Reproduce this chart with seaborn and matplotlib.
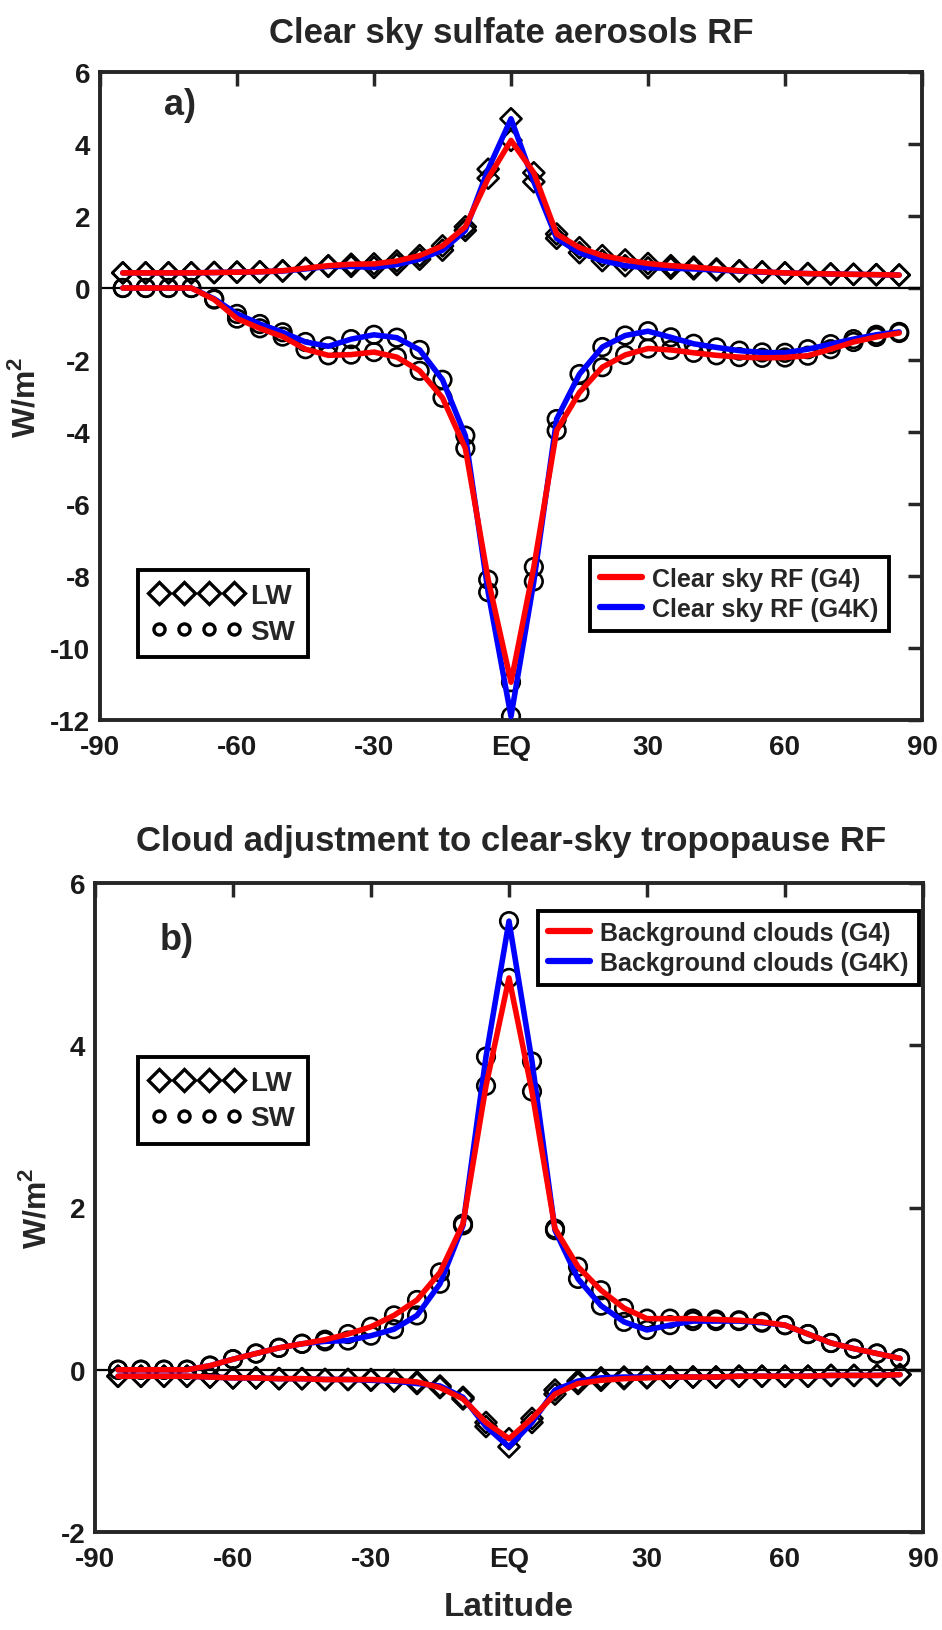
import pandas as pd
import matplotlib.pyplot as plt
import seaborn as sns
from matplotlib.lines import Line2D

# ---------------------------------------------------------------------------
# Data (W/m2), latitudes -85..85 every 5 degrees
# ---------------------------------------------------------------------------
lat = list(range(-85, 90, 5))

# panel a: clear sky sulfate aerosol RF
a_lw_g4 = [0.42, 0.42, 0.42, 0.42, 0.43, 0.44, 0.45, 0.48, 0.55, 0.62, 0.66, 0.67,
           0.75, 0.90, 1.17, 1.70, 3.05, 4.10, 3.20, 1.50, 1.12, 0.90, 0.78, 0.68,
           0.62, 0.58, 0.53, 0.48, 0.45, 0.42, 0.40, 0.39, 0.38, 0.37, 0.36]
a_lw_g4k = [0.42, 0.42, 0.42, 0.42, 0.43, 0.44, 0.45, 0.47, 0.53, 0.60, 0.60, 0.57,
            0.65, 0.80, 1.05, 1.60, 3.30, 4.70, 2.95, 1.38, 0.98, 0.76, 0.62, 0.56,
            0.55, 0.53, 0.50, 0.47, 0.44, 0.42, 0.40, 0.39, 0.38, 0.37, 0.36]
a_sw_g4 = [0.0, 0.0, 0.0, 0.0, -0.32, -0.85, -1.12, -1.35, -1.70, -1.87, -1.85, -1.78,
           -1.92, -2.30, -3.05, -4.45, -8.10, -10.95, -7.75, -3.96, -2.90, -2.20, -1.86,
           -1.68, -1.72, -1.80, -1.87, -1.92, -1.94, -1.93, -1.88, -1.70, -1.50, -1.36, -1.25]
a_sw_g4k = [0.0, 0.0, 0.0, 0.0, -0.30, -0.72, -1.00, -1.23, -1.50, -1.62, -1.42, -1.30,
            -1.38, -1.72, -2.55, -4.10, -8.45, -11.90, -8.15, -3.64, -2.39, -1.64, -1.32,
            -1.20, -1.37, -1.55, -1.65, -1.74, -1.79, -1.80, -1.70, -1.56, -1.42, -1.30, -1.22]

# panel b: cloud adjustment to clear-sky tropopause RF
b_lw_g4 = [-0.08, -0.08, -0.08, -0.08, -0.09, -0.10, -0.10, -0.11, -0.11, -0.12, -0.12, -0.12,
           -0.13, -0.15, -0.22, -0.36, -0.65, -0.85, -0.60, -0.30, -0.17, -0.13, -0.11, -0.10,
           -0.09, -0.09, -0.09, -0.08, -0.08, -0.08, -0.08, -0.07, -0.07, -0.07, -0.06]
b_lw_g4k = [-0.08, -0.08, -0.08, -0.08, -0.09, -0.10, -0.10, -0.11, -0.11, -0.12, -0.12, -0.13,
            -0.14, -0.17, -0.20, -0.34, -0.70, -0.95, -0.65, -0.25, -0.14, -0.10, -0.09, -0.09,
            -0.09, -0.09, -0.09, -0.08, -0.08, -0.08, -0.08, -0.07, -0.07, -0.07, -0.06]
b_sw_g4 = [0.0, 0.0, 0.0, 0.0, 0.05, 0.13, 0.20, 0.27, 0.32, 0.37, 0.44, 0.53,
           0.67, 0.86, 1.20, 1.80, 3.50, 4.83, 3.43, 1.74, 1.27, 0.98, 0.76, 0.63,
           0.63, 0.63, 0.62, 0.61, 0.59, 0.55, 0.44, 0.33, 0.26, 0.20, 0.14]
b_sw_g4k = [0.0, 0.0, 0.0, 0.0, 0.05, 0.13, 0.20, 0.27, 0.32, 0.35, 0.36, 0.42,
            0.50, 0.67, 1.06, 1.78, 3.86, 5.53, 3.80, 1.72, 1.12, 0.79, 0.59, 0.49,
            0.55, 0.60, 0.60, 0.60, 0.58, 0.55, 0.44, 0.33, 0.26, 0.20, 0.14]

x_ticks = [-90, -60, -30, 0, 30, 60, 90]
x_ticklabels = ['-90', '-60', '-30', 'EQ', '30', '60', '90']

FONT = ['Liberation Sans', 'DejaVu Sans']


def to_long(lw_g4, lw_g4k, sw_g4, sw_g4k):
    rows = []
    for band, run, vals in [('LW', 'G4', lw_g4), ('LW', 'G4K', lw_g4k),
                            ('SW', 'G4', sw_g4), ('SW', 'G4K', sw_g4k)]:
        for la, v in zip(lat, vals):
            rows.append({'lat': la, 'value': v, 'band': band, 'run': run})
    return pd.DataFrame(rows)


def draw_panel(ax, df, ylim, yticks, tag, tag_y, line_labels, leg1_anchor, leg2_anchor):
    ax.axhline(0, color='black', lw=1.6, zorder=1.5)

    # open black markers: diamonds LW, circles SW
    for band, mk, size in [('LW', 'D', 115), ('SW', 'o', 160)]:
        sns.scatterplot(data=df[df['band'] == band], x='lat', y='value', marker=mk, s=size,
                        facecolors='none', edgecolor='black', linewidth=1.9,
                        legend=False, ax=ax, zorder=1.8)

    # lines, blue below red
    for band in ['LW', 'SW']:
        sns.lineplot(data=df[df['band'] == band], x='lat', y='value', hue='run',
                     hue_order=['G4K', 'G4'], palette={'G4': '#ff0000', 'G4K': '#0000ff'},
                     estimator=None, linewidth=4, legend=False, ax=ax, zorder=3)

    ax.set_xlim(-90, 90)
    ax.set_ylim(*ylim)
    ax.set_xticks(x_ticks)
    ax.set_xticklabels(x_ticklabels)
    ax.set_yticks(yticks)
    ax.set_yticklabels([str(t) for t in yticks])
    ax.tick_params(direction='in', length=10, width=2.5, top=True, right=True,
                   labelsize=20, pad=7, colors='#262626', labelcolor='#1a1a1a')
    ax.tick_params(axis='x', pad=10)
    for lbl in ax.get_xticklabels() + ax.get_yticklabels():
        lbl.set_fontweight('bold')
        lbl.set_family(FONT)
    for sp in ax.spines.values():
        sp.set_linewidth(2.8)
        sp.set_color('#262626')
    ax.set_xlabel('')
    ax.set_ylabel('W/m$^\\mathbf{2}$', fontsize=23, fontweight='bold', family=FONT, labelpad=6)

    ax.text(-76, tag_y, tag, fontsize=26, fontweight='bold', family=FONT, va='center')

    # marker legend
    h_lw = Line2D([], [], ls='none', marker='D', markersize=11, mfc='none', mec='black', mew=2.4)
    h_sw = Line2D([], [], ls='none', marker='o', markersize=8, mfc='none', mec='black', mew=2.4)
    leg1 = ax.legend([h_lw, h_sw], ['LW', 'SW'], numpoints=4, handlelength=3.3,
                     handletextpad=0.3, loc='lower left', bbox_to_anchor=leg1_anchor,
                     borderaxespad=0, fancybox=False, edgecolor='black', framealpha=1,
                     borderpad=0.45, labelspacing=0.35,
                     prop={'family': FONT, 'weight': 'bold', 'size': 20})
    leg1.get_frame().set_linewidth(2.8)
    ax.add_artist(leg1)

    # colour legend
    h_r = Line2D([], [], color='#ff0000', lw=4.5)
    h_b = Line2D([], [], color='#0000ff', lw=4.5)
    leg2 = ax.legend([h_r, h_b], line_labels, handlelength=1.7, handletextpad=0.4,
                     loc='upper left', bbox_to_anchor=leg2_anchor, borderaxespad=0,
                     fancybox=False, edgecolor='black', framealpha=1, borderpad=0.4,
                     labelspacing=0.25,
                     prop={'family': FONT, 'weight': 'bold', 'size': 18})
    leg2.get_frame().set_linewidth(2.8)


sns.set_style('white')
plt.rcParams['font.family'] = FONT
plt.rcParams['mathtext.fontset'] = 'custom'
plt.rcParams['mathtext.bf'] = 'Liberation Sans:bold'

fig = plt.figure(figsize=(9.42, 16.31), dpi=100, facecolor='white')
ax_a = fig.add_axes([100 / 942, 1 - 721 / 1631, 822 / 942, 648 / 1631])
ax_b = fig.add_axes([95 / 942, 1 - 1533 / 1631, 828 / 942, 649 / 1631])

draw_panel(ax_a, to_long(a_lw_g4, a_lw_g4k, a_sw_g4, a_sw_g4k), (-12, 6),
           [-12, -10, -8, -6, -4, -2, 0, 2, 4, 6], 'a)', 5.1,
           ['Clear sky RF (G4)', 'Clear sky RF (G4K)'], (0.046, 0.097), (0.596, 0.252))
draw_panel(ax_b, to_long(b_lw_g4, b_lw_g4k, b_sw_g4, b_sw_g4k), (-2, 6),
           [-2, 0, 2, 4, 6], 'b)', 5.3,
           ['Background clouds (G4)', 'Background clouds (G4K)'], (0.052, 0.598), (0.535, 0.957))

ax_b.set_xlabel('Latitude', fontsize=24, fontweight='bold', family=FONT, labelpad=14)

fig.text(511 / 942, 1 - 33 / 1631, 'Clear sky sulfate aerosols RF', ha='center', va='center',
         fontsize=25, fontweight='bold', family=FONT)
fig.text(511 / 942, 1 - 842 / 1631, 'Cloud adjustment to clear-sky tropopause RF', ha='center',
         va='center', fontsize=25, fontweight='bold', family=FONT)

fig.savefig('out.png', dpi=100, facecolor='white')
